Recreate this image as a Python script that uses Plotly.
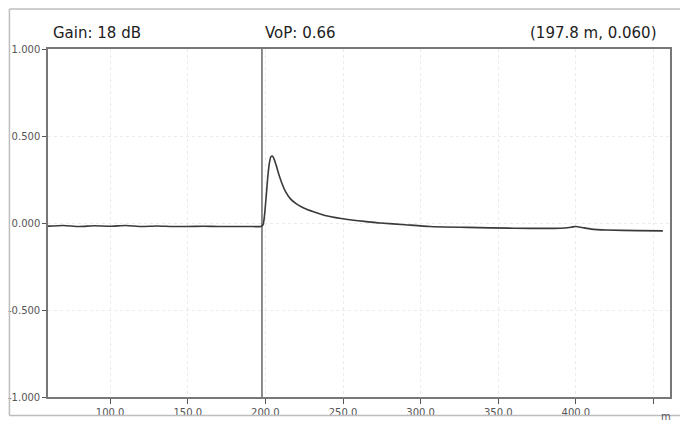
import plotly.graph_objects as go

# trace: distance [m], amplitude
distance = [60, 70, 80, 90, 100, 110, 120, 130, 140, 150, 160, 170, 180, 190,
            197, 198.5, 199.5, 200.5, 201.5, 202.5, 203.5, 204.5, 205.5, 207,
            209, 211, 213, 216, 220, 225, 231, 240, 253, 265, 274, 290, 306,
            330, 360, 390, 397, 400, 404, 410, 420, 440, 456]
amplitude = [-0.018, -0.014, -0.02, -0.016, -0.019, -0.014, -0.02, -0.017,
             -0.02, -0.02, -0.019, -0.02, -0.02, -0.02, -0.02, -0.01, 0.05,
             0.15, 0.26, 0.34, 0.38, 0.385, 0.37, 0.33, 0.27, 0.22, 0.18,
             0.14, 0.11, 0.085, 0.065, 0.04, 0.02, 0.008, 0.0, -0.01, -0.02,
             -0.025, -0.03, -0.03, -0.024, -0.02, -0.026, -0.035, -0.04,
             -0.044, -0.045]

cursor_x = 197.8
cursor_y = 0.060
gain_db = 18
vop = 0.66

x_ticks = [100, 150, 200, 250, 300, 350, 400, 450]
x_labels = ["100.0", "150.0", "200.0", "250.0", "300.0", "350.0", "400.0", ""]
y_ticks = [-1, -0.5, 0, 0.5, 1]
y_labels = ["-1.000", "-0.500", "0.000", "0.500", "1.000"]

fig = go.Figure()

# cursor line
fig.add_trace(go.Scatter(x=[cursor_x, cursor_x], y=[-1, 1], mode="lines",
                         line=dict(color="#666", width=1.5),
                         hoverinfo="skip"))
fig.add_trace(go.Scatter(x=distance, y=amplitude, mode="lines",
                         line=dict(color="#3a3a3a", width=1.6, shape="spline",
                                   smoothing=0.6)))

axis_common = dict(showline=True, linecolor="#777", linewidth=1.5,
                   mirror=True, ticks="outside", tickcolor="#555",
                   showgrid=True, gridcolor="#ebebeb", griddash="dot",
                   gridwidth=1, zeroline=False,
                   tickfont=dict(family="DejaVu Sans", size=10, color="#555"))

fig.update_layout(
    width=680, height=426,
    margin=dict(l=45, r=8, t=49, b=21),
    paper_bgcolor="white",
    plot_bgcolor="white",
    showlegend=False,
    xaxis=dict(range=[60, 460.6], tickvals=x_ticks, ticktext=x_labels,
               ticklen=5, **axis_common),
    yaxis=dict(range=[-1, 1], tickvals=y_ticks, ticktext=y_labels,
               ticklen=4, **axis_common),
)

head_font = dict(family="DejaVu Sans", size=15, color="#222")
fig.add_annotation(x=0.005, y=1.045, xref="paper", yref="paper",
                   xanchor="left", yanchor="middle", showarrow=False,
                   text=f"Gain: {gain_db} dB", font=head_font)
fig.add_annotation(x=0.346, y=1.045, xref="paper", yref="paper",
                   xanchor="left", yanchor="middle", showarrow=False,
                   text=f"VoP: {vop:.2f}", font=head_font)
fig.add_annotation(x=0.983, y=1.045, xref="paper", yref="paper",
                   xanchor="right", yanchor="middle", showarrow=False,
                   text=f"({cursor_x:.1f} m, {cursor_y:.3f})", font=head_font)
# unit label at the end of the x axis
fig.add_annotation(x=1.005, y=-0.035, xref="paper", yref="paper",
                   xanchor="right", yanchor="top", showarrow=False,
                   text="m", font=dict(family="DejaVu Sans", size=10, color="#555"))

# outer frame (top, left, bottom)
frame = dict(type="line", xref="paper", yref="paper",
             line=dict(color="#bdbdbd", width=1.5))
fig.add_shape(x0=-0.062, x1=1.02, y0=1.115, y1=1.115, **frame)
fig.add_shape(x0=-0.062, x1=-0.062, y0=1.115, y1=-0.053, **frame)
fig.add_shape(x0=-0.062, x1=1.02, y0=-0.053, y1=-0.053, **frame)

fig.write_html("out.html", config={"displayModeBar": False},
               post_script="document.body.style.margin='0';")
